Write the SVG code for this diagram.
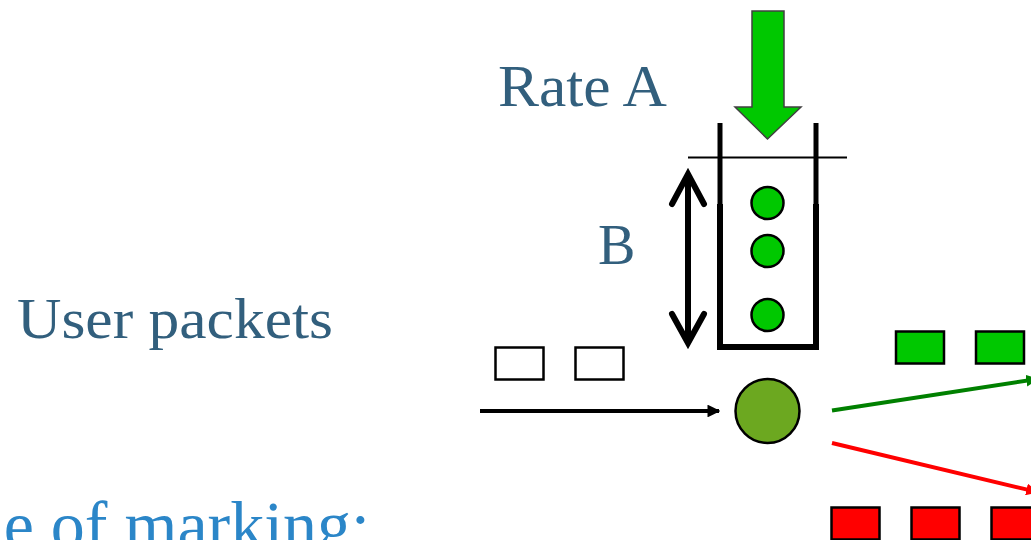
<svg xmlns="http://www.w3.org/2000/svg" width="1031" height="540" viewBox="0 0 1031 540">
<defs>
<style>
.lbl{font-family:"Liberation Serif","DejaVu Serif",serif;fill:#325F7D}
.ttl{font-family:"Liberation Serif","DejaVu Serif",serif;fill:#2B86C8}
.pkt{stroke:#000;stroke-width:2.5}
.tok{fill:#00C800;stroke:#000;stroke-width:2.5}
.wall{stroke:#000;fill:none}
</style>
<marker id="ahBlack" viewBox="0 0 10 10" refX="9" refY="5" markerWidth="3.2" markerHeight="3.2" orient="auto" markerUnits="strokeWidth">
<path d="M0,0 L10,5 L0,10 z" fill="#000"/>
</marker>
<marker id="ahGreen" viewBox="0 0 10 10" refX="9" refY="5" markerWidth="3" markerHeight="3" orient="auto" markerUnits="strokeWidth">
<path d="M0,0 L10,5 L0,10 z" fill="#008000"/>
</marker>
<marker id="ahRed" viewBox="0 0 10 10" refX="9" refY="5" markerWidth="3" markerHeight="3" orient="auto" markerUnits="strokeWidth">
<path d="M0,0 L10,5 L0,10 z" fill="#FF0000"/>
</marker>
</defs>
<rect width="1031" height="540" fill="#FFFFFF"/>

<text class="lbl" x="498" y="106" font-size="59" textLength="169" lengthAdjust="spacingAndGlyphs">Rate A</text>
<text class="lbl" x="598" y="264" font-size="56">B</text>
<text class="lbl" x="17" y="338" font-size="57" textLength="316" lengthAdjust="spacingAndGlyphs">User packets</text>
<text class="ttl" x="370" y="548" font-size="68" text-anchor="end">e of marking:</text>

<g id="rate-arrow">
<path d="M752,11 L784,11 L784,107 L801,107 L767.5,139 L735,107 L752,107 Z" fill="#00C800" stroke="#404040" stroke-width="1.5"/>
</g>

<g id="bucket">
<line x1="688" y1="157.5" x2="847" y2="157.5" stroke="#000" stroke-width="1.8"/>
<line class="wall" x1="720" y1="123" x2="720" y2="204" stroke-width="5"/>
<line class="wall" x1="816" y1="123" x2="816" y2="204" stroke-width="5"/>
<path class="wall" d="M720,204 L720,347 L816,347 L816,204" stroke-width="6"/>
</g>

<g id="tokens">
<circle class="tok" cx="767.5" cy="203" r="16"/>
<circle class="tok" cx="767.5" cy="251" r="16"/>
<circle class="tok" cx="767.5" cy="315" r="16"/>
</g>

<g id="bucket-size">
<line x1="688" y1="175" x2="688" y2="342" stroke="#000" stroke-width="6"/>
<polyline points="672,204 688,174 704,204" fill="none" stroke="#000" stroke-width="6" stroke-linecap="round" stroke-linejoin="miter"/>
<polyline points="672,314 688,343 704,314" fill="none" stroke="#000" stroke-width="6" stroke-linecap="round" stroke-linejoin="miter"/>
</g>

<g id="input-packets">
<rect class="pkt" x="495.5" y="347.5" width="48" height="32" fill="#FFFFFF"/>
<rect class="pkt" x="575.5" y="347.5" width="48" height="32" fill="#FFFFFF"/>
</g>

<g id="meter">
<circle cx="767.5" cy="411" r="32" fill="#6CA820" stroke="#000" stroke-width="2.5"/>
</g>

<g id="green-packets">
<rect class="pkt" x="896" y="331.5" width="48" height="32" fill="#00C800"/>
<rect class="pkt" x="976" y="331.5" width="48" height="32" fill="#00C800"/>
</g>

<g id="red-packets">
<rect class="pkt" x="831.5" y="507.5" width="48" height="32" fill="#FF0000"/>
<rect class="pkt" x="911.5" y="507.5" width="48" height="32" fill="#FF0000"/>
<rect class="pkt" x="991.5" y="507.5" width="48" height="32" fill="#FF0000"/>
</g>

<g id="connectors">
<line x1="480" y1="411" x2="719" y2="411" stroke="#000" stroke-width="4" marker-end="url(#ahBlack)"/>
<line x1="832" y1="410.5" x2="1037" y2="379" stroke="#008000" stroke-width="4" marker-end="url(#ahGreen)"/>
<line x1="832" y1="443" x2="1037" y2="492" stroke="#FF0000" stroke-width="4" marker-end="url(#ahRed)"/>
</g>
</svg>
